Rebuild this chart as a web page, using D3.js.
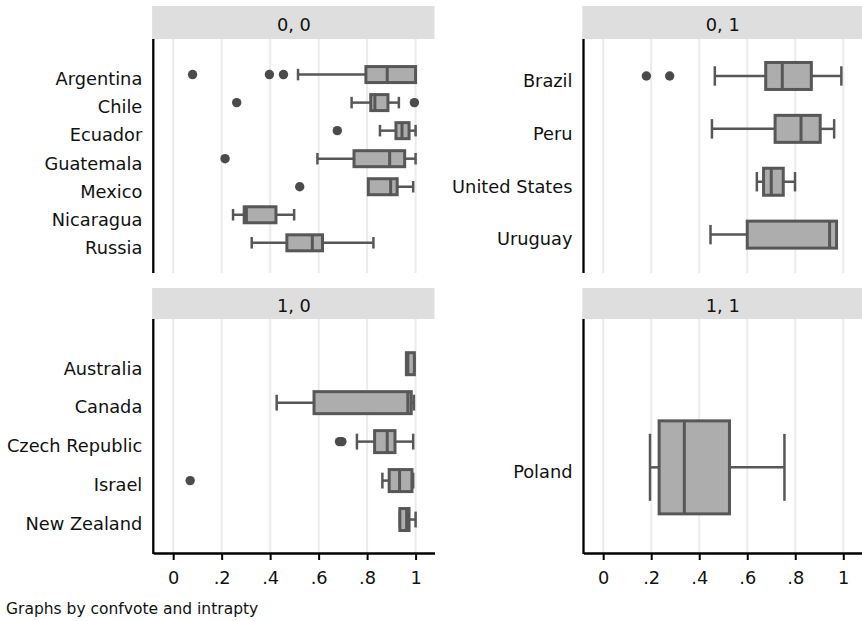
<!DOCTYPE html>
<html>
<head>
<meta charset="utf-8">
<script src="https://cdn.jsdelivr.net/npm/d3@7"></script>
<style>
  body { margin: 0; background: #fff; }
  svg { display: block; font-family: "DejaVu Sans", sans-serif; }
</style>
</head>
<body>
<svg id="chart" width="862" height="621"></svg>
<script>
// tick marks shared by every panel
const tickVals = [0, 0.2, 0.4, 0.6, 0.8, 1];
const tickText = ["0", ".2", ".4", ".6", ".8", "1"];

// rows are [lower whisker, q1, median, q3, upper whisker]
const countries00 = ["Argentina", "Chile", "Ecuador", "Guatemala", "Mexico", "Nicaragua", "Russia"];
const box00 = [
    [0.515, 0.795, 0.883, 1.000, 1.000],
    [0.736, 0.815, 0.832, 0.886, 0.931],
    [0.853, 0.919, 0.944, 0.973, 1.000],
    [0.595, 0.746, 0.893, 0.955, 1.000],
    [0.805, 0.805, 0.897, 0.924, 0.990],
    [0.247, 0.293, 0.302, 0.424, 0.499],
    [0.324, 0.469, 0.574, 0.616, 0.826]
];
const out00 = [[0.080, 0.397, 0.455], [0.262, 0.995], [0.677], [0.214], [0.522], [], []];

const countries01 = ["Brazil", "Peru", "United States", "Uruguay"];
const box01 = [
    [0.465, 0.677, 0.746, 0.867, 0.992],
    [0.453, 0.716, 0.824, 0.904, 0.962],
    [0.640, 0.668, 0.700, 0.750, 0.799],
    [0.447, 0.600, 0.943, 0.972, 0.972]
];
const out01 = [[0.180, 0.277], [], [], []];

const countries10 = ["Australia", "Canada", "Czech Republic", "Israel", "New Zealand"];
const box10 = [
    [0.962, 0.962, 0.968, 0.995, 0.995],
    [0.427, 0.581, 0.968, 0.982, 0.993],
    [0.758, 0.831, 0.883, 0.915, 0.990],
    [0.863, 0.891, 0.934, 0.985, 0.990],
    [0.935, 0.935, 0.963, 0.973, 1.000]
];
const out10 = [[], [], [0.686, 0.696], [0.070], []];

const countries11 = ["Poland"];
const box11 = [[0.195, 0.233, 0.338, 0.526, 0.755]];
const out11 = [[]];

const titles = ["0, 0", "0, 1", "1, 0", "1, 1"];

// panel layout (pixels), first/last = where the first and last box sit in the plot height
const panels = [
    { title: titles[0], names: countries00, boxes: box00, outs: out00,
      left: 153.3, right: 434.5, top: 39, bottom: 273, stripTop: 6, first: 0.152, last: 0.871, boxH: 16, xAxis: false },
    { title: titles[1], names: countries01, boxes: box01, outs: out01,
      left: 583.5, right: 862, top: 39, bottom: 273, stripTop: 6, first: 0.158, last: 0.836, boxH: 27, xAxis: false },
    { title: titles[2], names: countries10, boxes: box10, outs: out10,
      left: 153.3, right: 434.5, top: 319, bottom: 553, stripTop: 288, first: 0.191, last: 0.857, boxH: 22, xAxis: true },
    { title: titles[3], names: countries11, boxes: box11, outs: out11,
      left: 583.5, right: 862, top: 319, bottom: 553, stripTop: 288, first: 0.634, last: 0.634, boxH: 93, xAxis: true }
];

const boxFill = "#adadad", boxStroke = "#575757", dotFill = "#4b4b4b", gridColor = "#ebebeb";
const fontSize = 17.8;

const svg = d3.select("#chart");

panels.forEach(function (p) {
    const g = svg.append("g");
    const h = p.bottom - p.top;

    const x = d3.scaleLinear()
        .domain([-0.082, 1.078])
        .range([p.left, p.right]);
    const y = d3.scalePoint()
        .domain(p.names)
        .range([p.top + p.first * h, p.top + p.last * h]);

    // strip
    g.append("rect")
        .attr("x", p.left - 1.2)
        .attr("y", p.stripTop)
        .attr("width", p.right - p.left + 1.2)
        .attr("height", p.top - p.stripTop)
        .attr("fill", "#dedede");
    g.append("text")
        .attr("x", (p.left + p.right) / 2)
        .attr("y", (p.stripTop + p.top) / 2 + 8)
        .attr("text-anchor", "middle")
        .attr("font-size", fontSize)
        .attr("fill", "#111")
        .text(p.title);

    // grid
    g.selectAll("line.grid")
        .data(tickVals)
        .enter().append("line")
        .attr("class", "grid")
        .attr("x1", d => x(d)).attr("x2", d => x(d))
        .attr("y1", p.top).attr("y2", p.bottom)
        .attr("stroke", gridColor)
        .attr("stroke-width", 2);

    // country labels
    const yAxis = g.append("g")
        .attr("transform", "translate(" + p.left + ",0)")
        .call(d3.axisLeft(y).tickSize(0).tickPadding(11));
    yAxis.select(".domain").remove();
    yAxis.selectAll("text")
        .attr("font-size", fontSize)
        .attr("font-family", "DejaVu Sans, sans-serif")
        .attr("fill", "#111")
        .attr("dy", "0.58em");

    g.append("line")
        .attr("x1", p.left).attr("x2", p.left)
        .attr("y1", p.top).attr("y2", p.bottom + (p.xAxis ? 1.1 : 0))
        .attr("stroke", "#000")
        .attr("stroke-width", 2.3);

    if (p.xAxis) {
        const xAxis = g.append("g")
            .attr("transform", "translate(0," + p.bottom + ")")
            .call(d3.axisBottom(x)
                .tickValues(tickVals)
                .tickFormat((d, i) => tickText[i])
                .tickSize(7)
                .tickSizeOuter(0)
                .tickPadding(11.5));
        xAxis.select(".domain").attr("stroke", "#000").attr("stroke-width", 2.3);
        xAxis.selectAll(".tick line").attr("stroke", "#000").attr("stroke-width", 2);
        xAxis.selectAll("text")
            .attr("font-size", fontSize)
            .attr("font-family", "DejaVu Sans, sans-serif")
            .attr("fill", "#111");
    }

    const rows = p.names.map((n, i) => ({ name: n, s: p.boxes[i], outs: p.outs[i] }));
    const capH = p.boxH * 0.72;

    const item = g.selectAll("g.box")
        .data(rows)
        .enter().append("g")
        .attr("class", "box");

    // whiskers
    item.append("line")
        .attr("x1", d => x(d.s[0])).attr("x2", d => x(d.s[1]))
        .attr("y1", d => y(d.name)).attr("y2", d => y(d.name))
        .attr("stroke", boxStroke).attr("stroke-width", 2.5);
    item.append("line")
        .attr("x1", d => x(d.s[3])).attr("x2", d => x(d.s[4]))
        .attr("y1", d => y(d.name)).attr("y2", d => y(d.name))
        .attr("stroke", boxStroke).attr("stroke-width", 2.5);
    // caps
    [0, 4].forEach(function (k) {
        item.append("line")
            .attr("x1", d => x(d.s[k])).attr("x2", d => x(d.s[k]))
            .attr("y1", d => y(d.name) - capH / 2).attr("y2", d => y(d.name) + capH / 2)
            .attr("stroke", boxStroke).attr("stroke-width", 2.5);
    });
    // box
    item.append("rect")
        .attr("x", d => x(d.s[1]))
        .attr("width", d => x(d.s[3]) - x(d.s[1]))
        .attr("y", d => y(d.name) - p.boxH / 2)
        .attr("height", p.boxH)
        .attr("fill", boxFill)
        .attr("stroke", boxStroke)
        .attr("stroke-width", 3);
    // median
    item.append("line")
        .attr("x1", d => x(d.s[2])).attr("x2", d => x(d.s[2]))
        .attr("y1", d => y(d.name) - p.boxH / 2).attr("y2", d => y(d.name) + p.boxH / 2)
        .attr("stroke", boxStroke).attr("stroke-width", 3);
    // outside values
    item.selectAll("circle")
        .data(d => d.outs.map(v => ({ v: v, name: d.name })))
        .enter().append("circle")
        .attr("cx", d => x(d.v))
        .attr("cy", d => y(d.name))
        .attr("r", 4.7)
        .attr("fill", dotFill);
});

svg.append("text")
    .attr("x", 6)
    .attr("y", 614)
    .attr("font-size", 15.5)
    .attr("fill", "#111")
    .text("Graphs by confvote and intrapty");
</script>
</body>
</html>
